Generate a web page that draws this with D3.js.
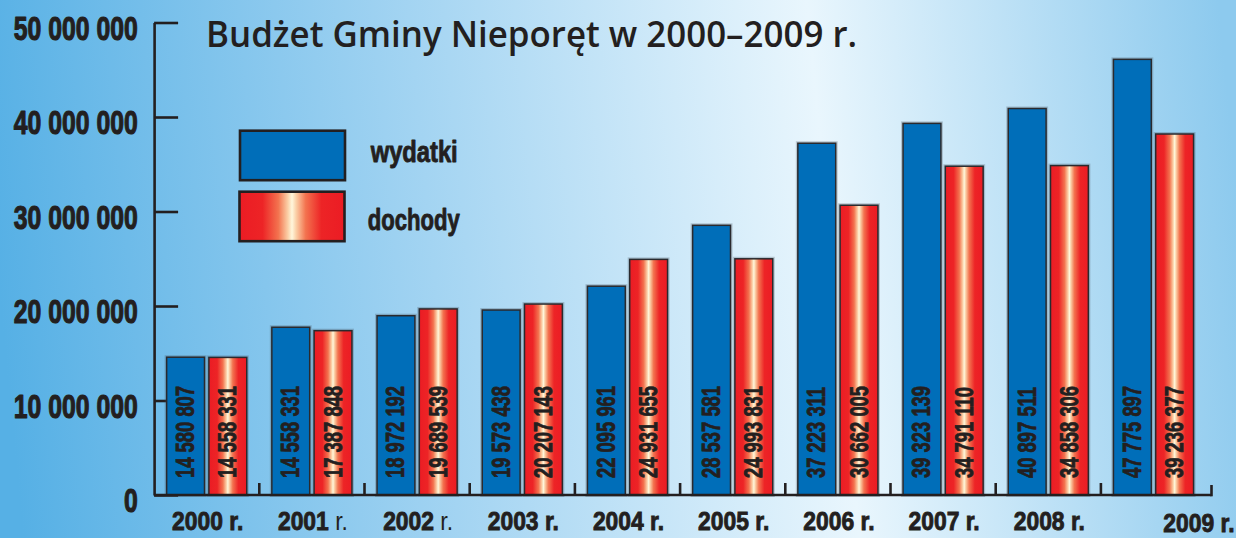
<!DOCTYPE html>
<html>
<head>
<meta charset="utf-8">
<script src="https://cdn.jsdelivr.net/npm/d3@7/dist/d3.min.js"></script>
<style>
  html, body { margin: 0; padding: 0; overflow: hidden; background: #8fcbee; }
  svg { display: block; }
</style>
</head>
<body>
<svg id="chart" width="1236" height="538"></svg>
<script>
// ---------- DATA ----------
const title = "Budżet Gminy Nieporęt w 2000–2009 r.";
const years = ["2000", "2001", "2002", "2003", "2004", "2005", "2006", "2007", "2008", "2009"];
const seriesNames = ["wydatki", "dochody"];
// bar heights as drawn in the picture
const wydatki = [14580807, 17750000, 18972192, 19573438, 22095961, 28537581, 37223311, 39323139, 40897511, 46100000];
const dochody = [14558331, 17387848, 19689539, 20207143, 24931655, 24993831, 30662005, 34791110, 34858306, 38200000];
// numbers printed inside the bars
const wydatkiLabels = [14580807, 14558331, 18972192, 19573438, 22095961, 28537581, 37223311, 39323139, 40897511, 47775897];
const dochodyLabels = [14558331, 17387848, 19689539, 20207143, 24931655, 24993831, 30662005, 34791110, 34858306, 39236377];
const yTicks = [0, 10000000, 20000000, 30000000, 40000000, 50000000];

// ---------- SETUP ----------
const svg = d3.select("#chart");
const W = 1236, H = 538;
const ink = "#231f20";
const fmt = d3.formatLocale({ decimal: ",", thousands: " ", grouping: [3], currency: ["", ""] }).format(",d");
const boldFont = "'Liberation Sans', Arimo, Arial, sans-serif";

const defs = svg.append("defs");
const bg = defs.append("linearGradient").attr("id", "bg")
  .attr("gradientUnits", "userSpaceOnUse")
  .attr("x1", 0).attr("y1", 300).attr("x2", W).attr("y2", 180);
[[0, "#56b0e5"], [0.35, "#a3d4f2"], [0.67, "#e9f6fd"], [1, "#8dcaee"]]
  .forEach(([o, c]) => bg.append("stop").attr("offset", o).attr("stop-color", c));

const red = defs.append("linearGradient").attr("id", "redgrad")
  .attr("x1", 0).attr("y1", 0).attr("x2", 1).attr("y2", 0);
[[0, "#eb1c24"], [0.22, "#ed2426"], [0.37, "#f3734f"], [0.46, "#fbcfa6"], [0.5, "#fff7dc"],
 [0.54, "#fbcfa6"], [0.63, "#f3734f"], [0.78, "#ed2426"], [1, "#eb1c24"]]
  .forEach(([o, c]) => red.append("stop").attr("offset", o).attr("stop-color", c));

const blue = "#006eb9";
const fills = { wydatki: blue, dochody: "url(#redgrad)" };

svg.append("rect").attr("width", W).attr("height", H).attr("fill", "url(#bg)");

// heavy condensed text look
function heavy(sel, sw) {
  return sel.attr("fill", ink).attr("stroke", ink).attr("stroke-width", sw)
    .attr("stroke-linejoin", "round")
    .style("font-family", boldFont).style("font-weight", "bold");
}

// ---------- SCALES ----------
const plotLeft = 154.1, groupStep = 105.2, axisEnd = 1211.5;
const x = d3.scaleBand().domain(years).range([plotLeft, plotLeft + groupStep * years.length]).paddingInner(0).paddingOuter(0);
const xs = d3.scaleBand().domain(seriesNames).range([0, x.bandwidth()]).paddingInner(0.104).paddingOuter(0.297);
const y = d3.scaleLinear().domain([0, 50000000]).range([495, 22.5]);

// ---------- Y AXIS ----------
const yAxis = svg.append("g").attr("transform", `translate(${plotLeft},0)`)
  .call(d3.axisLeft(y).tickValues(yTicks).tickSize(-24).tickSizeOuter(0).tickPadding(16.3).tickFormat(fmt));
yAxis.select(".domain").attr("stroke", ink).attr("stroke-width", 2.6);
yAxis.selectAll(".tick line").attr("stroke", ink).attr("stroke-width", 2.6);
heavy(yAxis.selectAll(".tick text")
  .attr("x", null).attr("dy", null)
  .attr("transform", "translate(-16.3,16.9) scale(0.765,1)"), 1.1)
  .style("font-size", "32.4px");

// ---------- BARS ----------
const rows = years.map((yr, i) => ({
  year: yr,
  vals: [
    { key: "wydatki", value: wydatki[i], label: wydatkiLabels[i] },
    { key: "dochody", value: dochody[i], label: dochodyLabels[i] }
  ]
}));

const groups = svg.append("g").selectAll("g").data(rows).join("g")
  .attr("transform", d => `translate(${x(d.year)},0)`);

groups.selectAll("rect.halo").data(d => d.vals).join("rect").attr("class", "halo")
  .attr("x", d => xs(d.key)).attr("width", xs.bandwidth())
  .attr("y", d => y(d.value)).attr("height", d => y(0) - y(d.value))
  .attr("fill", "none").attr("stroke", "rgba(70,80,90,0.28)").attr("stroke-width", 4);

groups.selectAll("rect.bar").data(d => d.vals).join("rect").attr("class", "bar")
  .attr("x", d => xs(d.key)).attr("width", xs.bandwidth())
  .attr("y", d => y(d.value)).attr("height", d => y(0) - y(d.value))
  .attr("fill", d => fills[d.key]).attr("stroke", "#2a2a2e").attr("stroke-width", 1.5);

heavy(groups.selectAll("text.val").data(d => d.vals).join("text").attr("class", "val")
  .attr("transform", d => `translate(${xs(d.key) + xs.bandwidth() / 2 + 8.5},478) rotate(-90) scale(0.70,1)`), 0.8)
  .style("font-size", "26.3px")
  .text(d => fmt(d.label));

// ---------- X AXIS ----------
const xAxis = svg.append("g");
xAxis.append("line").attr("x1", plotLeft).attr("x2", axisEnd).attr("y1", y(0)).attr("y2", y(0))
  .attr("stroke", ink).attr("stroke-width", 2.6);
xAxis.selectAll("line.sep").data(years.slice(1)).join("line").attr("class", "sep")
  .attr("x1", d => x(d)).attr("x2", d => x(d)).attr("y1", y(0) - 12).attr("y2", y(0))
  .attr("stroke", ink).attr("stroke-width", 2.6);
xAxis.append("line").attr("x1", axisEnd).attr("x2", axisEnd).attr("y1", y(0) - 10).attr("y2", y(0) + 1.3)
  .attr("stroke", ink).attr("stroke-width", 2.6);

const regularSuffix = new Set(["2001", "2002"]);
const last = years[years.length - 1];
const xl = xAxis.selectAll("text.yr").data(years).join("text").attr("class", "yr")
  .attr("transform", d => d === last
      ? `translate(${axisEnd + 23},531.5) scale(0.86,1)`
      : `translate(${x(d) + x.bandwidth() / 2 + 1},530) scale(0.86,1)`)
  .attr("text-anchor", d => d === last ? "end" : "middle")
  .attr("fill", ink)
  .style("font-family", boldFont).style("font-size", "26.6px");
xl.append("tspan").style("font-weight", "bold").attr("stroke", ink).attr("stroke-width", 0.9).text(d => d + " ");
xl.append("tspan")
  .style("font-weight", d => regularSuffix.has(d) ? "normal" : "bold")
  .attr("stroke", d => regularSuffix.has(d) ? "none" : ink).attr("stroke-width", 0.9)
  .text("r.");

// ---------- TITLE ----------
svg.append("text").attr("x", 206).attr("y", 46.7)
  .attr("fill", ink)
  .attr("textLength", 651).attr("lengthAdjust", "spacingAndGlyphs")
  .style("font-family", "'Open Sans', 'Noto Sans', sans-serif").style("font-weight", 600).style("font-size", "36px")
  .text(title);

// ---------- LEGEND ----------
const legend = svg.append("g");
const legendItems = [
  { key: "wydatki", box: [240, 130.7], text: [370.7, 161.7], len: 87 },
  { key: "dochody", box: [239.5, 191.7], text: [367.7, 230], len: 92 }
];
legend.selectAll("rect").data(legendItems).join("rect")
  .attr("x", d => d.box[0]).attr("y", d => d.box[1]).attr("width", 105).attr("height", 49.5)
  .attr("fill", d => fills[d.key]).attr("stroke", ink).attr("stroke-width", 2.6);
heavy(legend.selectAll("text").data(legendItems).join("text")
  .attr("x", d => d.text[0]).attr("y", d => d.text[1])
  .attr("textLength", d => d.len).attr("lengthAdjust", "spacingAndGlyphs"), 0.9)
  .style("font-size", "30px")
  .text(d => d.key);
</script>
</body>
</html>
